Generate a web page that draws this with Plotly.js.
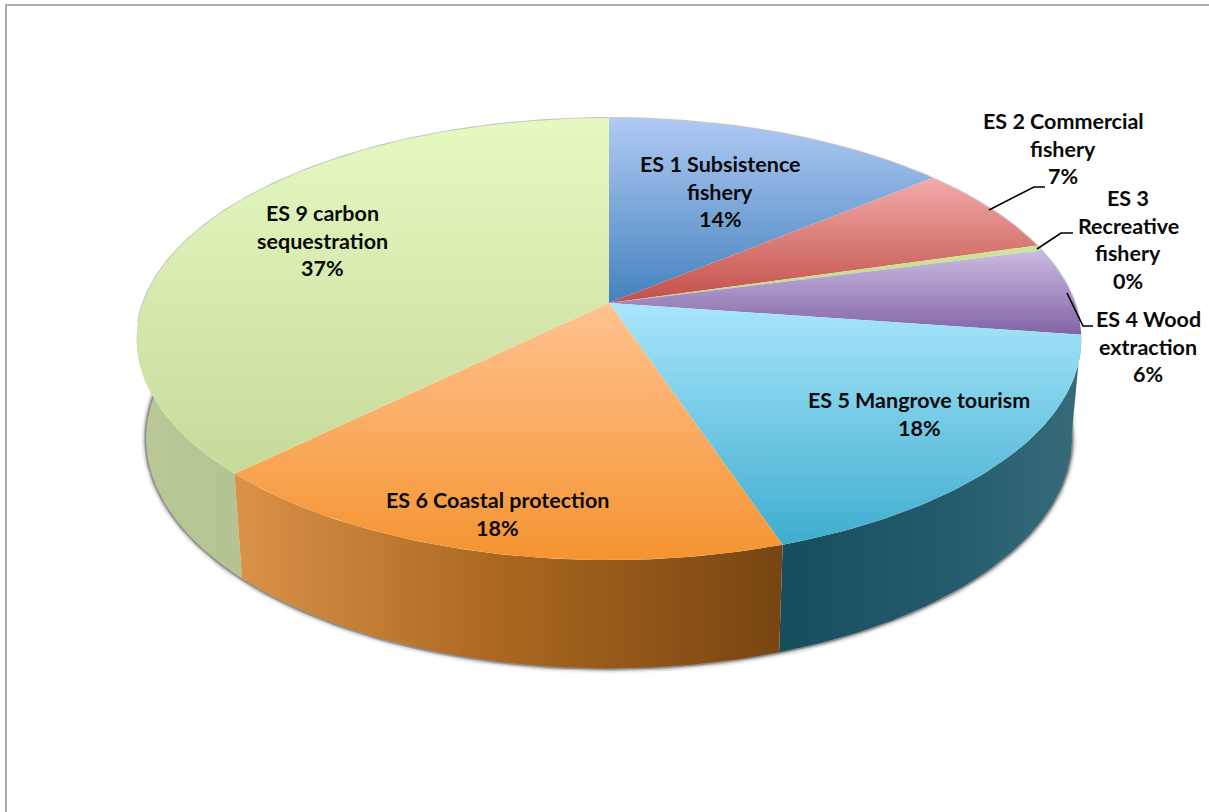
<!DOCTYPE html>
<html>
<head>
<meta charset="utf-8">
<script src="https://cdn.plot.ly/plotly-3.0.1.min.js"></script>
<style>html,body{margin:0;padding:0;background:#fff}#chart{width:1209px;height:812px}</style>
</head>
<body>
<div id="chart"></div>
<script>
// Share of each ecosystem service, in percent
const serviceNames = ['ES 1 Subsistence|fishery', 'ES 2 Commercial|fishery', 'ES 3|Recreative|fishery', 'ES 4 Wood|extraction', 'ES 5 Mangrove tourism', 'ES 6 Coastal protection', 'ES 9 carbon|sequestration'];
const serviceValues = [13.9, 6.6, 0.4, 6.4, 17.6, 17.7, 37.4];

// Top-face gradient colours (upper, lower) per slice
const topUpper = ['#B0CAF3', '#F2ABA9', '#CFE59A', '#CBBBE2', '#A9E6FC', '#FFC391', '#E6F9C2'];
const topLower = ['#4482BE', '#C24F49', '#BFD782', '#8264A6', '#3FADCE', '#F59330', '#C8DA9A'];

// Side-wall gradient colours, left to right, for the slices facing the viewer
const wallStops = {
  4: ['#164E5E', '#225A6B', '#376B7A'],
  5: ['#DB9249', '#A9661F', '#784512'],
  6: ['#B8C896', '#ADBD8B', '#A5B683']
};

// Label placement: centre x and first-line y of each label, in page units
const labelX = [720, 1063, 1128, 1148, 919, 497, 322];
const labelY = [164, 121, 198, 319, 400, 500, 213];
const lineStep = 27.6;

// Leader lines for the labels sitting outside the disc
const leaderX = [[989, 1034, 1045], [1037, 1061, 1073], [1067, 1083, 1093]];
const leaderY = [[210, 187, 187], [249, 233, 233], [293, 326, 326]];

// Perspective model of the disc
const cx = 609, cy = 303, rx = 466, ry = 215.2, tilt = 0.163;
const wallDrop = 98, wallScaleX = 0.98, wallScaleY = 1.04;

function rimPoint(deg, lower) {
  const t = deg * Math.PI / 180, s = Math.sin(t), c = Math.cos(t), w = 1 + tilt * c;
  if (lower) return [cx + rx * wallScaleX * s / w, cy + wallDrop - ry * wallScaleY * c / w];
  return [cx + rx * s / w, cy - ry * c / w];
}
function arc(from, to, lower) {
  const n = Math.max(2, Math.ceil(Math.abs(to - from))), pts = [];
  for (let i = 0; i <= n; i++) pts.push(rimPoint(from + (to - from) * i / n, lower));
  return pts;
}
function polygonTrace(pts, gradient) {
  return {
    type: 'scatter', mode: 'lines', x: pts.map(p => p[0]), y: pts.map(p => p[1]),
    fill: 'toself', fillgradient: gradient, line: {width: 0}, hoverinfo: 'skip', showlegend: false
  };
}
function lineTrace(pts, width, color) {
  return {
    type: 'scatter', mode: 'lines', x: pts.map(p => p[0]), y: pts.map(p => p[1]),
    line: {width: width, color: color, shape: 'linear'}, hoverinfo: 'skip', showlegend: false
  };
}

const total = serviceValues.reduce((a, b) => a + b, 0);
const edges = [0];
serviceValues.forEach(v => edges.push(edges[edges.length - 1] + v / total * 360));

const traces = [];

// Soft shadow hugging the underside of the disc
[[11, 'rgba(60,60,60,0.05)'], [8, 'rgba(60,60,60,0.10)'], [5, 'rgba(60,60,60,0.22)'], [3, 'rgba(60,60,60,0.35)']]
  .forEach(([w, col]) => traces.push(lineTrace(arc(88, 272, true), w, col)));
traces.push(lineTrace(arc(-95, 95, false), 2, 'rgba(130,130,130,0.45)'));

// Side walls
[6, 4, 5].forEach(i => {
  const pts = arc(edges[i], edges[i + 1], false).concat(arc(edges[i + 1], edges[i], true));
  const xs = pts.map(p => p[0]);
  const cols = wallStops[i];
  traces.push(polygonTrace(pts, {
    type: 'horizontal',
    colorscale: [[0, cols[0]], [0.5, cols[1]], [1, cols[2]]],
    start: Math.min(...xs), stop: Math.max(...xs)
  }));
});

// Top face slices
serviceValues.forEach((v, i) => {
  const pts = [[cx, cy]].concat(arc(edges[i], edges[i + 1], false));
  pts.push([cx, cy]);
  const ys = pts.map(p => p[1]);
  traces.push(polygonTrace(pts, {
    type: 'vertical',
    colorscale: [[0, topUpper[i]], [1, topLower[i]]],
    start: Math.min(...ys), stop: Math.max(...ys)
  }));
});

// Leader lines
leaderX.forEach((xs, i) => traces.push(lineTrace(xs.map((x, j) => [x, leaderY[i][j]]), 1.6, '#000')));

// One annotation per text line so the line pitch stays exact
const annotations = [];
serviceNames.forEach((name, i) => {
  const lines = name.split('|').concat([Math.round(serviceValues[i] / total * 100) + '%']);
  lines.forEach((text, j) => annotations.push({
    x: labelX[i], y: labelY[i] + j * lineStep, xref: 'x', yref: 'y', text: text, showarrow: false,
    xanchor: 'center', yanchor: 'middle', font: {family: 'Lato, sans-serif', size: 21.5, color: '#0a0a0a', weight: 700}
  }));
});

const layout = {
  width: 1209, height: 812, margin: {l: 0, r: 0, t: 0, b: 0, pad: 0},
  paper_bgcolor: '#fff', plot_bgcolor: '#fff', showlegend: false,
  xaxis: {range: [0, 1209], visible: false, fixedrange: true},
  yaxis: {range: [812, 0], visible: false, fixedrange: true},
  annotations: annotations,
  shapes: [
    {type: 'line', xref: 'x', yref: 'y', x0: 5, x1: 1209, y0: 5, y1: 5, line: {color: '#ababab', width: 2}},
    {type: 'line', xref: 'x', yref: 'y', x0: 6, x1: 6, y0: 5, y1: 812, line: {color: '#ababab', width: 2}}
  ]
};
Plotly.newPlot('chart', traces, layout, {displayModeBar: false, staticPlot: true});
</script>
</body>
</html>
